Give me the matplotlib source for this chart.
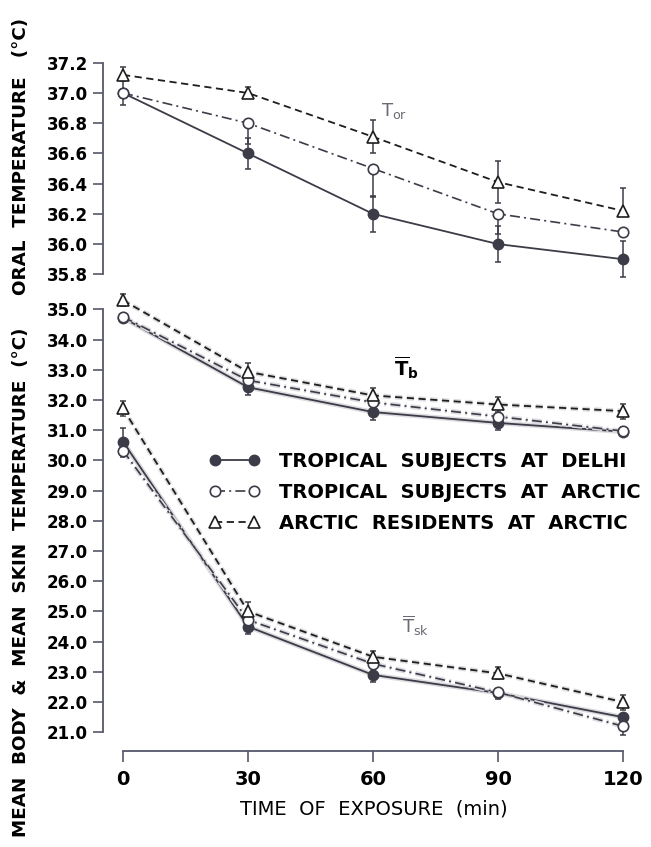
"""
Oral, mean body and mean skin temperature during cold exposure
for tropical and arctic subjects (two stacked panels, shared time axis)
"""

import matplotlib.pyplot as plt
from matplotlib import patheffects as pe

# Time of exposure (min) and tick labels
time_min = [0, 30, 60, 90, 120]
xtick_labels = ['0', '30', '60', '90', '120']

oral_ticks = [35.8, 36.0, 36.2, 36.4, 36.6, 36.8, 37.0, 37.2]
body_ticks = [21.0, 22.0, 23.0, 24.0, 25.0, 26.0, 27.0, 28.0, 29.0, 30.0,
              31.0, 32.0, 33.0, 34.0, 35.0]

legend_labels = ['TROPICAL  SUBJECTS  AT  DELHI',
                 'TROPICAL  SUBJECTS  AT  ARCTIC',
                 'ARCTIC  RESIDENTS  AT  ARCTIC']

# Oral temperature (deg C)
oral_delhi = [37.0, 36.6, 36.2, 36.0, 35.9]
oral_trop_arctic = [37.0, 36.8, 36.5, 36.2, 36.08]
oral_arctic_res = [37.12, 37.0, 36.71, 36.41, 36.22]
oral_delhi_err = [0.08, 0.1, 0.12, 0.12, 0.12]
oral_trop_arctic_err_lo = [0.0, 0.14, 0.19, 0.13, 0.0]
oral_arctic_res_err_lo = [0.0, 0.0, 0.11, 0.14, 0.0]
oral_arctic_res_err_hi = [0.05, 0.04, 0.11, 0.14, 0.15]

# Mean body temperature Tb (deg C)
tb_delhi = [34.72, 32.42, 31.6, 31.24, 30.95]
tb_trop_arctic = [34.75, 32.65, 31.92, 31.45, 30.97]
tb_arctic_res = [35.3, 32.93, 32.15, 31.85, 31.63]
tb_delhi_err = [0.1, 0.25, 0.25, 0.25, 0.15]
tb_arctic_res_err = [0.2, 0.3, 0.25, 0.25, 0.25]

# Mean skin temperature Tsk (deg C)
tsk_delhi = [30.62, 24.5, 22.9, 22.3, 21.5]
tsk_trop_arctic = [30.32, 24.72, 23.27, 22.32, 21.2]
tsk_arctic_res = [31.72, 25.0, 23.5, 22.95, 22.0]
tsk_delhi_err_lo = [0.0, 0.25, 0.25, 0.2, 0.0]
tsk_delhi_err_hi = [0.45, 0.0, 0.0, 0.0, 0.0]
tsk_trop_arctic_err = [0.2, 0.3, 0.25, 0.0, 0.3]
tsk_arctic_res_err = [0.25, 0.3, 0.2, 0.2, 0.25]

LINE_C = '#3c3c48'
TRI_C = '#1e1e1e'
SPINE_C = '#55566a'
FONT = 'DejaVu Sans'

line_styles = {
    'delhi': dict(color=LINE_C, ls='-', lw=1.3),
    'trop': dict(color=LINE_C, ls=(0, (6, 2.5, 1.2, 2.5)), lw=1.2),
    'arctic': dict(color=TRI_C, ls=(0, (4, 2.5)), lw=1.3),
}
marker_styles = {
    'delhi': dict(marker='o', ms=7.5, mfc=LINE_C, mec=LINE_C),
    'trop': dict(marker='o', ms=7.5, mfc='white', mec=LINE_C, mew=1.2),
    'arctic': dict(marker='^', ms=8, mfc='white', mec=TRI_C, mew=1.2),
}
err_kw = dict(fmt='none', ecolor=LINE_C, elinewidth=1.1, capsize=2.5,
              capthick=1.1)

fig = plt.figure(figsize=(6.51, 8.47), dpi=100)
ax1 = fig.add_axes([0.1582, 0.6672, 0.831, 0.2676])
ax2 = fig.add_axes([0.1582, 0.1133, 0.831, 0.5429])

# ---- top panel: oral temperature
ax1.errorbar(time_min, oral_delhi, yerr=oral_delhi_err, zorder=2, **err_kw)
ax1.errorbar(time_min, oral_trop_arctic,
             yerr=[oral_trop_arctic_err_lo, [0] * 5], zorder=2, **err_kw)
ax1.errorbar(time_min, oral_arctic_res,
             yerr=[oral_arctic_res_err_lo, oral_arctic_res_err_hi],
             zorder=2, **err_kw)
handles = []
for series, key in [(oral_delhi, 'delhi'), (oral_trop_arctic, 'trop'),
                    (oral_arctic_res, 'arctic')]:
    h, = ax1.plot(time_min, series, zorder=3, **line_styles[key],
                  **marker_styles[key])
    handles.append(h)
ax1.text(62, 36.85, r'T$_{\mathregular{or}}$', fontsize=13, color='#6a6a74',
         family=FONT)

# ---- bottom panel: mean body & mean skin temperature
halo = [pe.Stroke(linewidth=3.5, foreground='#dcdce0'), pe.Normal()]
ax2.errorbar(time_min, tb_delhi, yerr=tb_delhi_err, zorder=2, **err_kw)
ax2.errorbar(time_min, tb_arctic_res, yerr=tb_arctic_res_err, zorder=2,
             **err_kw)
ax2.errorbar(time_min, tsk_delhi, yerr=[tsk_delhi_err_lo, tsk_delhi_err_hi],
             zorder=2, **err_kw)
ax2.errorbar(time_min, tsk_trop_arctic, yerr=tsk_trop_arctic_err, zorder=2,
             **err_kw)
ax2.errorbar(time_min, tsk_arctic_res, yerr=tsk_arctic_res_err, zorder=2,
             **err_kw)
for series, key in [(tb_delhi, 'delhi'), (tb_trop_arctic, 'trop'),
                    (tb_arctic_res, 'arctic'), (tsk_delhi, 'delhi'),
                    (tsk_trop_arctic, 'trop'), (tsk_arctic_res, 'arctic')]:
    ax2.plot(time_min, series, zorder=3, path_effects=halo,
             **line_styles[key])
    ax2.plot(time_min, series, ls='none', zorder=4, **marker_styles[key])

ax2.text(65, 32.8, r'$\mathbf{\overline{T}_{b}}$', fontsize=14, color='black')
ax2.text(67, 24.3, r'$\mathregular{\overline{T}_{sk}}$', fontsize=13,
         color='#6a6a74')

ax2.legend(handles, legend_labels, loc='upper left',
           bbox_to_anchor=(0.196, 0.651), frameon=False, numpoints=2,
           handlelength=2.6, handletextpad=1.0, labelspacing=0.62,
           borderaxespad=0, borderpad=0,
           prop=dict(family=FONT, weight='bold', size=14))

# ---- axes styling
for ax in (ax1, ax2):
    ax.set_xlim(-4.8, 125)
    ax.spines[['top', 'right']].set_visible(False)
    for s in ('left', 'bottom'):
        ax.spines[s].set_color(SPINE_C)
        ax.spines[s].set_linewidth(1.3)
    ax.tick_params(axis='both', direction='out', length=7, width=1.2,
                   color=SPINE_C, pad=4)

ax1.set_ylim(35.75, 37.25)
ax1.set_yticks(oral_ticks)
ax1.set_yticklabels(['%.1f' % v for v in oral_ticks], fontweight='bold',
                    family=FONT, fontsize=12)
ax1.spines['left'].set_bounds(35.8, 37.2)
ax1.spines['bottom'].set_visible(False)
ax1.set_xticks([])

ax2.set_ylim(20.38, 35.6)
ax2.set_yticks(body_ticks)
ax2.set_yticklabels(['%.1f' % v for v in body_ticks], fontweight='bold',
                    family=FONT, fontsize=12)
ax2.spines['left'].set_bounds(21, 35)
ax2.spines['bottom'].set_bounds(0, 120)
ax2.set_xticks(time_min)
ax2.set_xticklabels(xtick_labels, fontweight='bold', family=FONT, fontsize=14)
ax2.tick_params(axis='x', length=8, pad=6)
ax2.set_xlabel('TIME  OF  EXPOSURE  (min)', fontsize=14, family=FONT,
               fontweight='medium', labelpad=7)

# vertical y labels down the left edge
fig.text(0.032, 0.012, 'MEAN  BODY  &  MEAN  SKIN  TEMPERATURE  (°C)',
         rotation=90, ha='center', va='bottom', fontsize=13.2,
         fontweight='bold', family=FONT)
fig.text(0.032, 0.652, 'ORAL  TEMPERATURE   (°C)', rotation=90,
         ha='center', va='bottom', fontsize=13.2, fontweight='bold',
         family=FONT)

fig.savefig('out.png', dpi=100, facecolor='white')
